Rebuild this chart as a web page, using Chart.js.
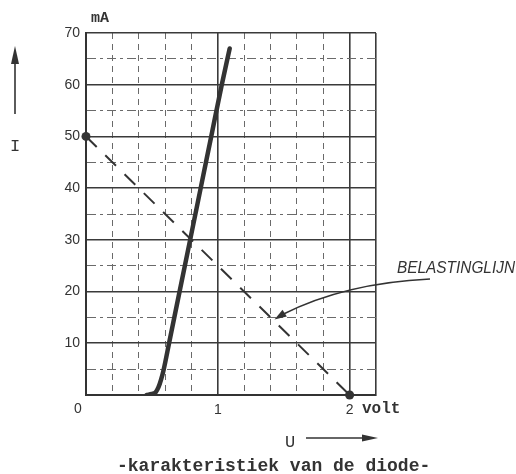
<!DOCTYPE html>
<html>
<head>
<meta charset="utf-8">
<script src="https://cdn.jsdelivr.net/npm/chart.js@4/dist/chart.umd.min.js"></script>
<style>
html,body{margin:0;padding:0;background:#fff;}
#wrap{width:516px;height:474px;position:relative;}
</style>
</head>
<body>
<div id="wrap"><canvas id="c" width="516" height="474"></canvas></div>
<script>
// Diode characteristic (U in volt, I in mA)
const diodeU = [0.46, 0.50, 0.53, 0.55, 0.57, 0.59, 0.63, 0.71, 0.79, 0.87, 0.95, 1.03, 1.09];
const diodeI = [0, 0.2, 0.6, 1.5, 3, 5, 10, 20, 30, 40, 50, 60, 67];
// Load line (belastinglijn)
const loadU = [0, 2];
const loadI = [50, 0];
// Axis ticks
const xTicks = [0, 0.2, 0.4, 0.6, 0.8, 1.0, 1.2, 1.4, 1.6, 1.8, 2.0, 2.2];
const xLabels = {1: '1', 2: '2'};
const yTicks = [0, 5, 10, 15, 20, 25, 30, 35, 40, 45, 50, 55, 60, 65, 70];
const yLabels = {10:'10',20:'20',30:'30',40:'40',50:'50',60:'60',70:'70'};
// Annotation arrow tip on the load line
const annoU = 1.43;
const annoI = 14.6;

const INK = '#333333';
const isMajorX = v => Math.abs(v - Math.round(v)) < 1e-6 || Math.abs(v - 2.2) < 1e-6;
const isMajorY = v => v % 10 === 0;

const overlay = {
  id: 'overlay',
  afterDraw(chart) {
    const ctx = chart.ctx;
    const xs = chart.scales.x, ys = chart.scales.y;
    ctx.save();
    ctx.fillStyle = INK;
    ctx.strokeStyle = INK;
    // mA
    ctx.font = 'bold 15px "Liberation Mono"';
    ctx.textAlign = 'left';
    ctx.textBaseline = 'alphabetic';
    ctx.fillText('mA', 91, 22);
    // origin 0
    ctx.font = '14px "Liberation Sans"';
    ctx.textAlign = 'center';
    ctx.textBaseline = 'middle';
    ctx.fillText('0', xs.getPixelForValue(0) - 8, 409);
    // volt
    ctx.font = 'bold 16px "Liberation Mono"';
    ctx.textAlign = 'left';
    ctx.fillText('volt', 362, 409);
    // I and arrow
    ctx.font = '17px "Liberation Mono"';
    ctx.textAlign = 'center';
    ctx.fillText('I', 15, 146);
    ctx.lineWidth = 1.6;
    ctx.beginPath(); ctx.moveTo(15, 114); ctx.lineTo(15, 60); ctx.stroke();
    ctx.beginPath(); ctx.moveTo(15, 46); ctx.lineTo(19, 64); ctx.lineTo(11, 64); ctx.closePath(); ctx.fill();
    // U and arrow
    ctx.fillText('U', 290, 442);
    ctx.beginPath(); ctx.moveTo(306, 438); ctx.lineTo(366, 438); ctx.stroke();
    ctx.beginPath(); ctx.moveTo(378, 438); ctx.lineTo(362, 434.5); ctx.lineTo(362, 441.5); ctx.closePath(); ctx.fill();
    // Title
    ctx.font = 'bold 18px "Liberation Mono"';
    ctx.textAlign = 'left';
    ctx.textBaseline = 'alphabetic';
    ctx.fillText('-karakteristiek van de diode-', 117, 471);
    // BELASTINGLIJN label
    ctx.font = 'italic 17px "Liberation Sans"';
    ctx.textAlign = 'left';
    ctx.textBaseline = 'alphabetic';
    ctx.fillText('BELASTINGLIJN', 397, 273, 118);
    // curved arrow to load line
    const tx = xs.getPixelForValue(annoU), ty = ys.getPixelForValue(annoI);
    ctx.lineWidth = 1.5;
    ctx.beginPath();
    ctx.moveTo(430, 279);
    ctx.quadraticCurveTo(345, 283, tx + 8, ty - 5);
    ctx.stroke();
    // arrow head
    const ang = Math.atan2(5, -8);
    const L = 12, W = 4;
    ctx.beginPath();
    ctx.moveTo(tx, ty);
    ctx.lineTo(tx - L * Math.cos(ang) + W * Math.sin(ang), ty - L * Math.sin(ang) - W * Math.cos(ang));
    ctx.lineTo(tx - L * Math.cos(ang) - W * Math.sin(ang), ty - L * Math.sin(ang) + W * Math.cos(ang));
    ctx.closePath();
    ctx.fill();
    ctx.restore();
  }
};

new Chart(document.getElementById('c'), {
  type: 'line',
  data: {
    datasets: [
      {
        label: 'diode',
        data: diodeU.map((u, i) => ({x: u, y: diodeI[i]})),
        borderColor: INK,
        borderWidth: 4.5,
        pointRadius: 0,
        cubicInterpolationMode: 'monotone',
        borderCapStyle: 'round',
        fill: false
      },
      {
        label: 'belastinglijn',
        data: loadU.map((u, i) => ({x: u, y: loadI[i]})),
        borderColor: INK,
        borderWidth: 2,
        borderDash: [15, 12],
        pointRadius: 4.5,
        pointBackgroundColor: INK,
        pointBorderColor: INK,
        pointBorderWidth: 0,
        clip: false,
        fill: false
      }
    ]
  },
  options: {
    responsive: false,
    animation: false,
    events: [],
    layout: {padding: {top: 33, right: 140, left: 0, bottom: 0}},
    plugins: {legend: {display: false}, tooltip: {enabled: false}, title: {display: false}},
    scales: {
      x: {
        type: 'linear', min: 0, max: 2.2,
        afterFit(s) { s.height = 79; },
        afterBuildTicks(s) { s.ticks = xTicks.map(v => ({value: v})); },
        ticks: {
          autoSkip: false, maxRotation: 0, padding: 7,
          color: INK,
          font: {family: 'Liberation Sans', size: 14},
          callback: v => xLabels[Math.round(v * 10) / 10] || ''
        },
        grid: {
          drawTicks: false,
          color: ctx => isMajorX(ctx.tick.value) ? '#3a3a3a' : '#6a6a6a',
          lineWidth: ctx => isMajorX(ctx.tick.value) ? 1.6 : 1
        },
        border: {
          display: true, color: '#333', width: 2,
          dash: ctx => (ctx.tick && !isMajorX(ctx.tick.value)) ? [6, 5] : []
        }
      },
      y: {
        type: 'linear', min: 0, max: 70,
        afterFit(s) { s.width = 86; },
        afterBuildTicks(s) { s.ticks = yTicks.map(v => ({value: v})); },
        ticks: {
          autoSkip: false, padding: 6,
          color: INK,
          font: {family: 'Liberation Sans', size: 14},
          callback: v => yLabels[v] || ''
        },
        grid: {
          drawTicks: false,
          color: ctx => isMajorY(ctx.tick.value) ? '#3a3a3a' : '#6a6a6a',
          lineWidth: ctx => isMajorY(ctx.tick.value) ? 1.6 : 1
        },
        border: {
          display: true, color: '#333', width: 2,
          dash: ctx => (ctx.tick && !isMajorY(ctx.tick.value)) ? [9, 4, 3, 4] : []
        }
      }
    }
  },
  plugins: [overlay]
});
</script>
</body>
</html>
